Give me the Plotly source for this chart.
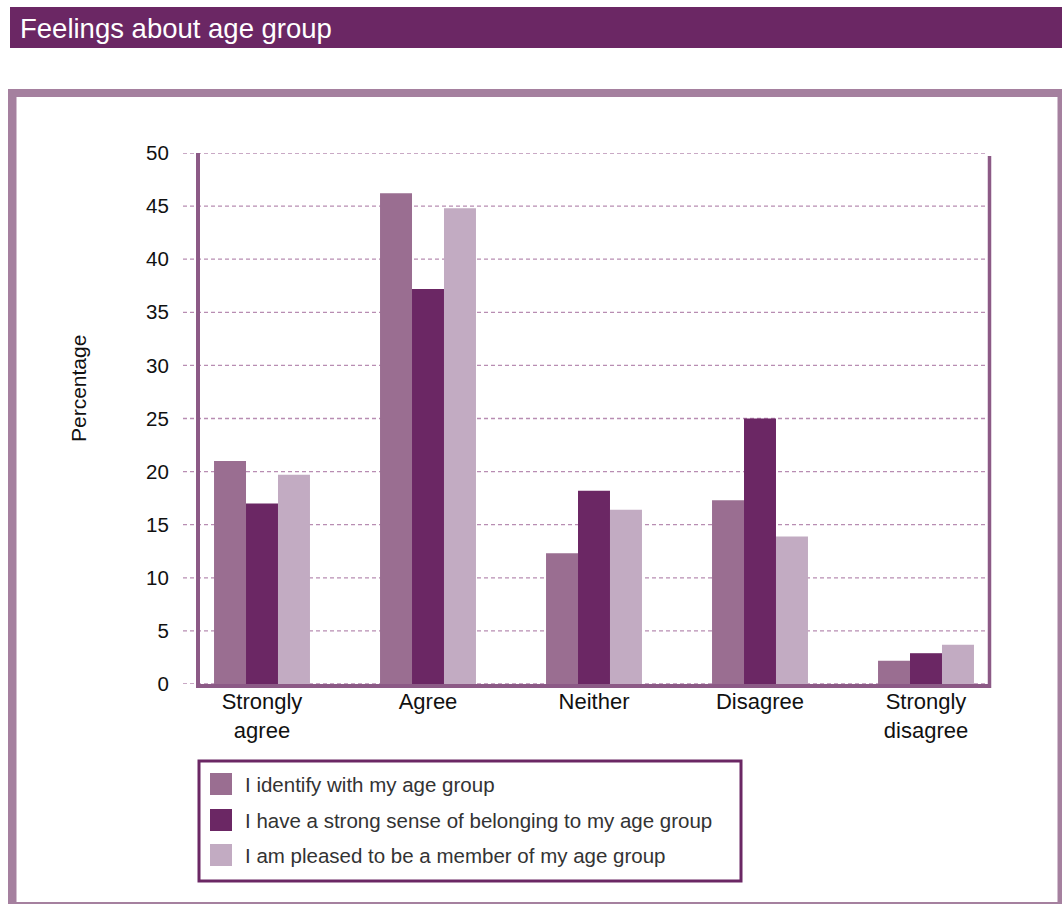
import plotly.graph_objects as go

# ---- data -------------------------------------------------------------
categories = ["Strongly<br>agree", "Agree", "Neither", "Disagree", "Strongly<br>disagree"]
series_names = [
    "I identify with my age group",
    "I have a strong sense of belonging to my age group",
    "I am pleased to be a member of my age group",
]
identify_values = [21.0, 46.2, 12.3, 17.3, 2.2]
belonging_values = [17.0, 37.2, 18.2, 25.0, 2.9]
pleased_values = [19.7, 44.8, 16.4, 13.9, 3.7]
y_tick_values = [0, 5, 10, 15, 20, 25, 30, 35, 40, 45, 50]

# ---- styling ----------------------------------------------------------
W, H = 1062, 904
FONT = "Liberation Sans, Arial, sans-serif"
series_colors = ["#9a6e91", "#6b2764", "#c2abc2"]
TITLE_BAR = "#6b2764"
FRAME = "#a5809f"
AXIS_LINE = "#8c5a86"
GRID = "#b88db2"


def px(x):
    return x / W


def py(y):
    return 1 - y / H


fig = go.Figure()
for name, vals, col in zip(series_names,
                           [identify_values, belonging_values, pleased_values],
                           series_colors):
    fig.add_trace(go.Bar(x=categories, y=vals, name=name,
                         marker=dict(color=col, line=dict(width=0)),
                         showlegend=False, hoverinfo="y"))

shapes = []
# title bar
shapes.append(dict(type="rect", xref="paper", yref="paper",
                   x0=px(10), x1=px(1062), y0=py(48), y1=py(7),
                   fillcolor=TITLE_BAR, line=dict(width=0), layer="below"))
# outer frame
shapes.append(dict(type="rect", xref="paper", yref="paper",
                   x0=px(8), x1=px(1062), y0=py(97), y1=py(89),
                   fillcolor=FRAME, line=dict(width=0), layer="below"))
shapes.append(dict(type="rect", xref="paper", yref="paper",
                   x0=px(8), x1=px(16.5), y0=py(904), y1=py(89),
                   fillcolor=FRAME, line=dict(width=0), layer="below"))
shapes.append(dict(type="rect", xref="paper", yref="paper",
                   x0=px(1057.5), x1=px(1062), y0=py(904), y1=py(89),
                   fillcolor=FRAME, line=dict(width=0), layer="below"))
shapes.append(dict(type="rect", xref="paper", yref="paper",
                   x0=px(8), x1=px(1062), y0=py(904), y1=py(902),
                   fillcolor=FRAME, line=dict(width=0), layer="below"))
# dashed gridlines
for v in y_tick_values:
    shapes.append(dict(type="line", xref="paper", yref="y",
                       x0=px(183), x1=px(988), y0=v, y1=v,
                       line=dict(color=GRID, width=1.3, dash="4px,3px"),
                       layer="below"))
# right-hand axis line
shapes.append(dict(type="line", xref="paper", yref="paper",
                   x0=px(989.5), x1=px(989.5), y0=py(688), y1=py(156),
                   line=dict(color=AXIS_LINE, width=3.5), layer="above"))

# legend box
shapes.append(dict(type="rect", xref="paper", yref="paper",
                   x0=px(199), x1=px(741), y0=py(881), y1=py(761),
                   fillcolor="white", line=dict(color=TITLE_BAR, width=3),
                   layer="above"))
annotations = []
row_y = [784, 820, 855]
for name, col, ry in zip(series_names, series_colors, row_y):
    shapes.append(dict(type="rect", xref="paper", yref="paper",
                       x0=px(210), x1=px(232), y0=py(ry + 11), y1=py(ry - 11),
                       fillcolor=col, line=dict(width=0), layer="above"))
    annotations.append(dict(text=name, xref="paper", yref="paper",
                            x=px(243), y=py(ry), xanchor="left", yanchor="middle",
                            showarrow=False,
                            font=dict(family=FONT, size=20.5, color="#333333")))

# chart title
annotations.append(dict(text="Feelings about age group", xref="paper", yref="paper",
                        x=px(18), y=py(28), xanchor="left", yanchor="middle",
                        showarrow=False,
                        font=dict(family=FONT, size=27.5, color="white")))
# y-axis title
annotations.append(dict(text="Percentage", xref="paper", yref="paper",
                        x=px(79), y=py(389), xanchor="center", yanchor="middle",
                        textangle=-90, showarrow=False,
                        font=dict(family=FONT, size=21, color="#111111")))

fig.update_layout(
    template="none",
    width=W, height=H,
    autosize=False,
    margin=dict(l=0, r=0, t=0, b=0, pad=0, autoexpand=False),
    paper_bgcolor="white",
    plot_bgcolor="rgba(0,0,0,0)",
    barmode="group",
    bargap=0.422,
    bargroupgap=0,
    shapes=shapes,
    annotations=annotations,
    xaxis=dict(domain=[px(200), px(988)], range=[-0.3735, 4.3735],
               automargin=False,
               showgrid=False, zeroline=False, showline=True,
               linecolor=AXIS_LINE, linewidth=4, ticks="",
               ticklabelstandoff=-5,
               tickfont=dict(family=FONT, size=22, color="#111111")),
    yaxis=dict(domain=[py(684), py(153)], range=[0, 50],
               automargin=False,
               tickvals=y_tick_values, showgrid=False, zeroline=False,
               showline=True, linecolor=AXIS_LINE, linewidth=4, ticks="",
               ticklabelstandoff=23,
               tickfont=dict(family=FONT, size=20.5, color="#111111")),
)

fig.write_html("out.html")
